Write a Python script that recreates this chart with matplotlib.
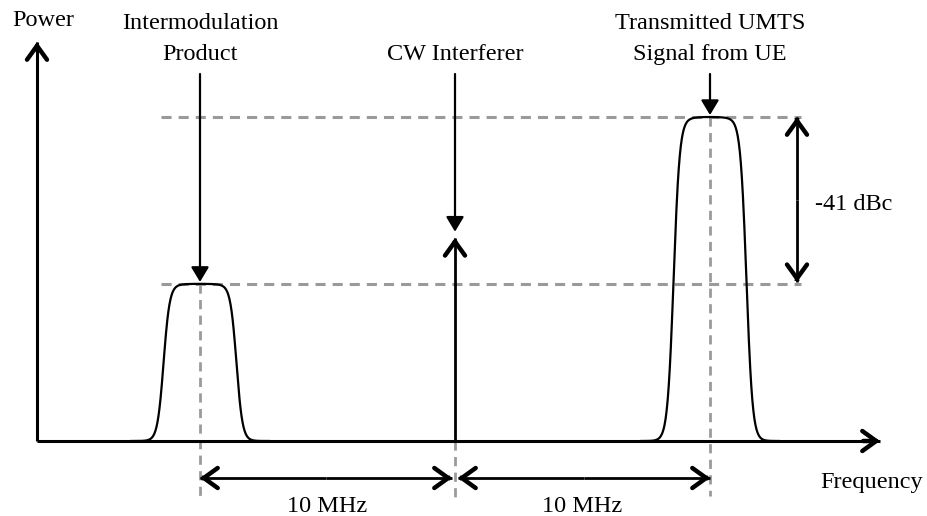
import numpy as np
import matplotlib.pyplot as plt
from matplotlib.patches import FancyArrowPatch

# signals in the spectrum, offsets in MHz from the CW tone
freq_offsets = [-10, 0, 10]
signal_kinds = ['band', 'tone', 'band']
signal_levels = [0.485, 0.627, 1.0]   # drawn height, UMTS carrier = 1
signal_labels = ['Intermodulation\nProduct', 'CW Interferer', 'Transmitted UMTS\nSignal from UE']
band_half_width = 1.43                # MHz
spacing_labels = ['10 MHz', '10 MHz']
level_label = '-41 dBc'

plt.rcParams['font.family'] = ['Liberation Serif', 'DejaVu Serif']
FS = 17.5
BLACK = 'black'
GREY = '#9a9a9a'


def px_x(px):
    # pixel column -> MHz
    return (px - 455) / 25.5


def px_y(py):
    # pixel row -> drawn level
    return (441 - py) / 324.0


def chevron(ax, start, tip, shaft_lw=2.0, head_lw=3.2):
    """shaft as a line, open arrowhead drawn thicker on top"""
    ax.plot([start[0], tip[0]], [start[1], tip[1]], color=BLACK, lw=shaft_lw,
            solid_capstyle='butt')
    d = np.array(tip) - np.array(start)
    back = np.array(tip) - d * 0.02
    head = FancyArrowPatch(back, tip, arrowstyle='->,head_length=0.5,head_width=0.36',
                           mutation_scale=20, lw=head_lw, color=BLACK,
                           shrinkA=0, shrinkB=0, capstyle='round', joinstyle='miter')
    ax.add_patch(head)


def pointer(ax, start, tip):
    arr = FancyArrowPatch(start, tip, arrowstyle='-|>,head_length=0.45,head_width=0.27',
                          mutation_scale=20, lw=1.6, color=BLACK,
                          shrinkA=0, shrinkB=0)
    ax.add_patch(arr)


def band(f, centre, level):
    edge = 1.0 / (1.0 + np.exp((np.abs(f - centre) - band_half_width) / 0.12))
    dome = 1.0 - 0.008 * ((f - centre) / band_half_width) ** 2
    return level * edge * dome


fig = plt.figure(figsize=(9.27, 5.16), dpi=100)
ax = fig.add_axes([0, 0, 1, 1])
ax.set_xlim(px_x(0), px_x(927))
ax.set_ylim(px_y(516), px_y(0))
ax.axis('off')

dash = (0, (3.3, 2.3))
top_level = max(signal_levels)
im_level = signal_levels[0]

# reference dashed lines
for lev in [top_level, im_level]:
    ax.plot([px_x(161), px_x(801)], [lev, lev], color=GREY, lw=2.2, linestyle=dash, zorder=1)
ax.plot([freq_offsets[0]] * 2, [im_level, px_y(500)], color=GREY, lw=2.0, linestyle=dash, zorder=1)
ax.plot([freq_offsets[1]] * 2, [0, px_y(500)], color=GREY, lw=2.0, linestyle=dash, zorder=1)
ax.plot([freq_offsets[2]] * 2, [top_level, px_y(496)], color=GREY, lw=2.0, linestyle=dash, zorder=1)

# axes
x0 = px_x(37)
chevron(ax, (x0, 0), (x0, px_y(42)), shaft_lw=2.2)
chevron(ax, (x0, 0), (px_x(880), 0), shaft_lw=2.2)
ax.text(px_x(12), px_y(26), 'Power', fontsize=FS, ha='left', va='baseline')
ax.text(px_x(820), px_y(488), 'Frequency', fontsize=FS, ha='left', va='baseline')

# signals
for fc, kind, lev, lab in zip(freq_offsets, signal_kinds, signal_levels, signal_labels):
    if kind == 'band':
        f = np.linspace(fc - 2.7, fc + 2.7, 400)
        ax.plot(f, band(f, fc, lev), color=BLACK, lw=1.6, zorder=3)
        tip = lev + 0.006
    else:
        chevron(ax, (fc, 0), (fc, lev), shaft_lw=2.0)
        tip = lev + 0.019
    pointer(ax, (fc, px_y(74)), (fc, tip))
    lines = lab.split('\n')
    base = [px_y(60)] if len(lines) == 1 else [px_y(29), px_y(60)]
    for txt, yb in zip(lines, base):
        ax.text(fc, yb, txt, fontsize=FS, ha='center', va='baseline')

# relative level arrow
xr = px_x(797)
chevron(ax, (xr, (top_level + im_level) / 2), (xr, top_level), shaft_lw=2.0)
chevron(ax, (xr, (top_level + im_level) / 2), (xr, im_level + 0.005), shaft_lw=2.0)
ax.text(px_x(815), px_y(210), level_label, fontsize=FS, ha='left', va='baseline')

# spacing arrows
ya = px_y(478)
gap = px_x(458) - px_x(452)
for (fa, fb), lab in zip([(freq_offsets[0], freq_offsets[1]), (freq_offsets[1], freq_offsets[2])],
                         spacing_labels):
    a = fa + (gap / 2 if fa == 0 else 0)
    b = fb - (gap / 2 if fb == 0 else 0)
    mid = (a + b) / 2
    chevron(ax, (mid, ya), (a, ya), shaft_lw=2.0)
    chevron(ax, (mid, ya), (b, ya), shaft_lw=2.0)
    ax.text((fa + fb) / 2, px_y(512), lab, fontsize=FS, ha='center', va='baseline')

fig.savefig('out.png', dpi=100)
